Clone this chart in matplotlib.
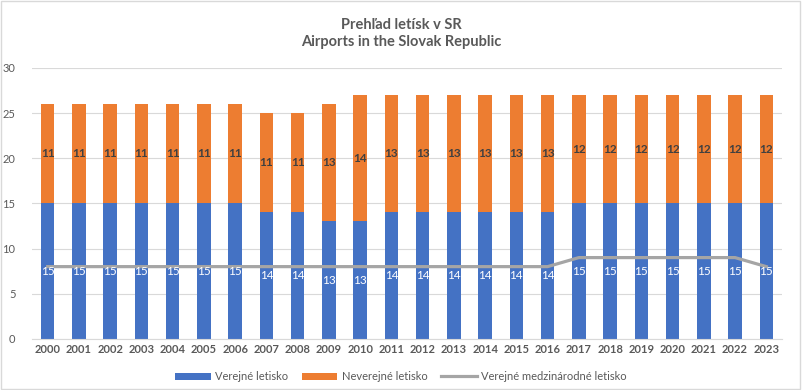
import matplotlib
matplotlib.use('Agg')
import matplotlib.pyplot as plt
import numpy as np

plt.rcParams['font.family'] = ['Lato', 'DejaVu Sans']

# data
years = [str(y) for y in range(2000, 2024)]
public = [15, 15, 15, 15, 15, 15, 15, 14, 14, 13, 13, 14, 14, 14, 14, 14, 14,
          15, 15, 15, 15, 15, 15, 15]
non_public = [11, 11, 11, 11, 11, 11, 11, 11, 11, 13, 14, 13, 13, 13, 13, 13, 13,
              12, 12, 12, 12, 12, 12, 12]
international = [8, 8, 8, 8, 8, 8, 8, 8, 8, 8, 8, 8, 8, 8, 8, 8, 8,
                 9, 9, 9, 9, 9, 9, 8]

blue = '#4472C4'
orange = '#ED7D31'
grey = '#A5A5A5'
text_col = '#595959'

fig = plt.figure(figsize=(8.02, 3.90), dpi=100)
ax = fig.add_axes([0.040, 0.131, 0.935, 0.695])

x = np.arange(len(years))
w = 0.43
b1 = ax.bar(x, public, w, color=blue, label='Verejné letisko', zorder=2)
b2 = ax.bar(x, non_public, w, bottom=public, color=orange,
            label='Neverejné letisko', zorder=2)
ln, = ax.plot(x, international, color=grey, lw=2.3, zorder=3,
              label='Verejné medzinárodné letisko')

# value labels in the middle of each segment
for i in range(len(years)):
    ax.text(x[i], public[i] / 2, str(public[i]), ha='center', va='center',
            color='white', fontsize=8.5, zorder=4)
    ax.text(x[i], public[i] + non_public[i] / 2, str(non_public[i]),
            ha='center', va='center', color='#404040', fontsize=8.5,
            fontweight='bold', zorder=4)

ax.set_xlim(-0.5, len(years) - 0.5)
ax.set_ylim(0, 30)
ax.set_yticks(range(0, 31, 5))
ax.set_xticks(x)
ax.set_xticklabels(years, fontweight='bold')
ax.tick_params(axis='both', length=0, labelsize=8, colors=text_col)
ax.tick_params(axis='y', pad=12)
ax.tick_params(axis='x', pad=4)
ax.grid(axis='y', color='#D9D9D9', lw=0.8, zorder=0)
for s in ['top', 'right', 'left']:
    ax.spines[s].set_visible(False)
ax.spines['bottom'].set_color('#D9D9D9')

fig.text(0.5, 0.955, 'Prehľad letísk v SR\nAirports in the Slovak Republic',
         ha='center', va='top', fontsize=10.5, fontweight='bold', color=text_col,
         linespacing=1.3)

leg = fig.legend(handles=[b1, b2, ln], loc='lower center',
                 bbox_to_anchor=(0.5, -0.005), ncol=3,
                 frameon=False, fontsize=8, handlelength=3.2, handleheight=0.6,
                 columnspacing=1.2, handletextpad=0.4)
for t in leg.get_texts():
    t.set_color(text_col)

# light border around the whole chart
fig.patches.append(plt.Rectangle((0.001, 0.002), 0.997, 0.996, transform=fig.transFigure,
                                 fill=False, edgecolor='#D9D9D9', lw=1))

fig.savefig('out.png', dpi=100)
